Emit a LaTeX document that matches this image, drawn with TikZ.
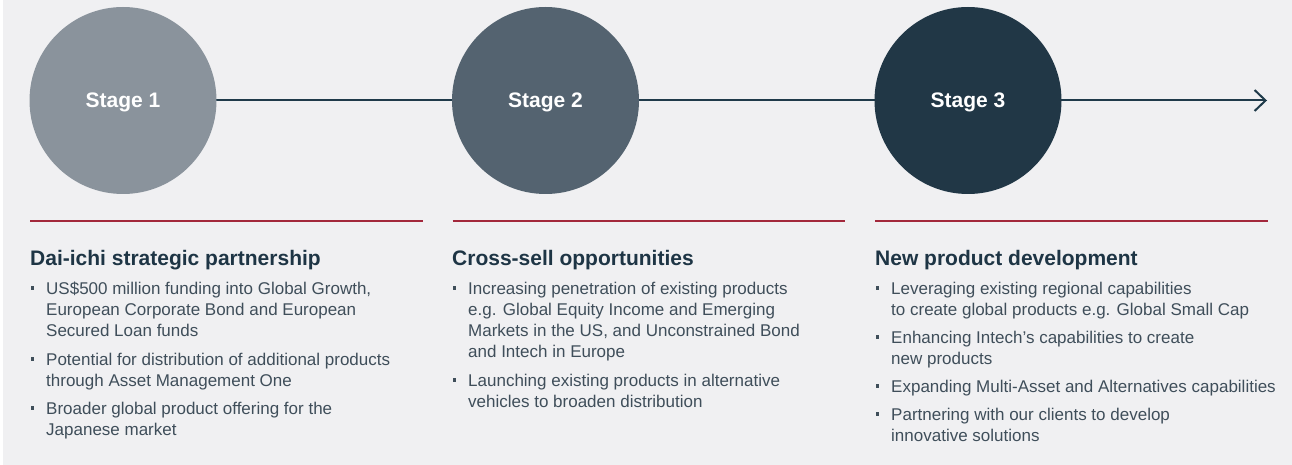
\documentclass[tikz,border=0pt]{standalone}
\usepackage{fontspec}
\setmainfont{Liberation Sans}
\usetikzlibrary{arrows.meta}

\definecolor{pagebg}{HTML}{F0F0F2}
\definecolor{stageone}{HTML}{8A939C}
\definecolor{stagetwo}{HTML}{546370}
\definecolor{stagethree}{HTML}{213746}
\definecolor{timelinecol}{HTML}{1F3A4A}
\definecolor{rulered}{HTML}{A3283C}
\definecolor{headcol}{HTML}{1E3545}
\definecolor{bodycol}{HTML}{3F4E5A}

\pgfdeclarelayer{back}
\pgfsetlayers{back,main}

\tikzset{
  stagecircle/.style={circle, minimum size=187pt, inner sep=0pt,
    text=white, font=\bfseries\fontsize{21}{21}\selectfont,
    text height=15pt, text depth=0pt},
  timeline/.style={draw=timelinecol, line width=2pt,
    -{Straight Barb[length=11pt,width=21pt,line width=2pt]}},
  redrule/.style={draw=rulered, line width=1.3pt},
  headtext/.style={anchor=base west, inner sep=0pt, text=headcol,
    font=\bfseries\fontsize{21}{24}\selectfont},
  bodytext/.style={anchor=base west, inner sep=0pt, text=bodycol,
    font=\fontsize{17}{21}\selectfont},
}

% small square bullet centred at x, raised above baseline y
\newcommand\sqmark[2]{\fill[bodycol] (#1-1.7,#2-7.8) rectangle (#1+1.7,#2-4.4);}

\begin{document}
\begin{tikzpicture}[x=1pt,y=-1pt]
\useasboundingbox (0,0) rectangle (1292,465);

% stages
\node[stagecircle, fill=stageone]   (s1) at (123,100.5)   {Stage 1};
\node[stagecircle, fill=stagetwo]   (s2) at (545.5,100.5) {Stage 2};
\node[stagecircle, fill=stagethree] (s3) at (968,100.5)   {Stage 3};
\coordinate (tip) at (1267,100.5);

\begin{pgfonlayer}{back}
  \fill[white] (0,0) rectangle (1292,465);
  \fill[pagebg] (3,0) rectangle (1292,465);
  \draw[timeline] (s1.center) -- (tip);
\end{pgfonlayer}

% separators
\draw[redrule] (30,221) -- (423,221);
\draw[redrule] (452.5,221) -- (845,221);
\draw[redrule] (875,221) -- (1268,221);

% column 1
\node[headtext] (h1) at (30,265) {Dai-ichi strategic partnership};
\sqmark{32.4}{294}
\node[bodytext] (a1) at (46,294) {US\$500 million funding into Global Growth,};
\node[bodytext] (a2) at (46,315) {European Corporate Bond and European};
\node[bodytext] (a3) at (46,336) {Secured Loan funds};
\sqmark{32.4}{365}
\node[bodytext] (a4) at (46,365) {Potential for distribution of additional products};
\node[bodytext] (a5) at (46,386) {through Asset Management One};
\sqmark{32.4}{414}
\node[bodytext] (a6) at (46,414) {Broader global product offering for the};
\node[bodytext] (a7) at (46,435) {Japanese market};

% column 2
\node[headtext] (h2) at (452,265) {Cross-sell opportunities};
\sqmark{454.4}{294}
\node[bodytext] (b1) at (468,294) {Increasing penetration of existing products};
\node[bodytext] (b2) at (468,315) {e.g. Global Equity Income and Emerging};
\node[bodytext] (b3) at (468,336) {Markets in the US, and Unconstrained Bond};
\node[bodytext] (b4) at (468,357) {and Intech in Europe};
\sqmark{454.4}{386}
\node[bodytext] (b5) at (468,386) {Launching existing products in alternative};
\node[bodytext] (b6) at (468,407) {vehicles to broaden distribution};

% column 3
\node[headtext] (h3) at (875,265) {New product development};
\sqmark{877.6}{294}
\node[bodytext] (c1) at (891,294) {Leveraging existing regional capabilities};
\node[bodytext] (c2) at (891,315) {to create global products e.g. Global Small Cap};
\sqmark{877.6}{343}
\node[bodytext] (c3) at (891,343) {Enhancing Intech’s capabilities to create};
\node[bodytext] (c4) at (891,364) {new products};
\sqmark{877.6}{392}
\node[bodytext] (c5) at (891,392) {Expanding Multi-Asset and Alternatives capabilities};
\sqmark{877.6}{420}
\node[bodytext] (c6) at (891,420) {Partnering with our clients to develop};
\node[bodytext] (c7) at (891,441) {innovative solutions};
\end{tikzpicture}
\end{document}
